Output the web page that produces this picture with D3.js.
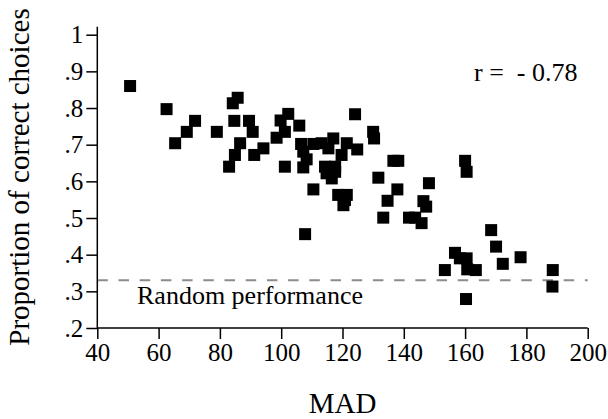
<!DOCTYPE html>
<html>
<head>
<meta charset="utf-8">
<script src="https://cdn.jsdelivr.net/npm/d3@7"></script>
<style>
    html, body { margin: 0; padding: 0; background: #fff; }
</style>
</head>
<body>
<div id="mad-chart-container"></div>
<script>
// mad-scatter.js
// Scatter plot: proportion of correct choices vs MAD, with chance line

// DATA ___________________________________________________________
const MAD_VALUES = [
    50.7, 62.6, 65.4, 69.2, 71.9, 79.0, 83.0, 84.2, 84.7, 84.9,
    85.8, 86.6, 89.5, 90.7, 91.2, 94.2, 98.5, 99.8, 101.2, 101.2,
    102.3, 105.9, 106.5, 107.2, 107.2, 108.3, 107.8, 110.5, 110.5, 113.2,
    114.3, 114.8, 115.4, 116.5, 117.0, 117.6, 117.6, 118.6, 119.7, 120.8,
    120.3, 121.4, 121.4, 124.1, 124.8, 130.0, 130.3, 131.7, 133.3, 134.7,
    136.6, 138.2, 137.9, 141.7, 143.7, 145.8, 146.4, 147.3, 148.2, 153.4,
    156.7, 158.3, 160.5, 160.0, 160.5, 160.7, 160.3, 163.5, 168.5, 170.1,
    172.3, 178.1, 188.6, 188.5
];
const PROPORTION_CORRECT = [
    0.860, 0.797, 0.704, 0.735, 0.765, 0.735, 0.640, 0.813, 0.765, 0.672,
    0.828, 0.704, 0.765, 0.735, 0.672, 0.690, 0.719, 0.766, 0.735, 0.640,
    0.784, 0.752, 0.702, 0.681, 0.638, 0.660, 0.456, 0.702, 0.578, 0.704,
    0.640, 0.622, 0.690, 0.608, 0.717, 0.640, 0.626, 0.563, 0.672, 0.549,
    0.535, 0.704, 0.563, 0.783, 0.687, 0.735, 0.717, 0.610, 0.501, 0.547,
    0.656, 0.656, 0.578, 0.501, 0.501, 0.486, 0.546, 0.531, 0.595, 0.358,
    0.405, 0.390, 0.390, 0.656, 0.626, 0.360, 0.279, 0.358, 0.467, 0.422,
    0.375, 0.393, 0.358, 0.313
];
const X_TICKS = [40, 60, 80, 100, 120, 140, 160, 180, 200];
const Y_TICKS = [0.2, 0.3, 0.4, 0.5, 0.6, 0.7, 0.8, 0.9, 1];
const Y_TICK_LABELS = ['.2', '.3', '.4', '.5', '.6', '.7', '.8', '.9', '1'];
const CHANCE_LEVEL = [0.33];
const R_LABEL = 'r =  - 0.78';
const CHANCE_LABEL = 'Random performance';
const X_TITLE = 'MAD';
const Y_TITLE = 'Proportion of correct choices';
//________________________________________________________________________________________


// CHART SETTINGS ___________________________________________________________
const SVG_W = 608;
const SVG_H = 419;
const PLOT = {left: 97.3, right: 587.7, top: 34.7, bottom: 328};
const MARKER = 12;
const TICK_LEN = 11;
const FONT = '"Liberation Serif", "DejaVu Serif", Times, serif';
//________________________________________________________________________________________


function drawChart() {
    const svg = d3.select('#mad-chart-container')
        .append('svg')
        .attr('width', SVG_W)
        .attr('height', SVG_H)
        .style('display', 'block')
        .attr('font-family', FONT);

    const xScale = d3.scaleLinear().domain([40, 200]).range([PLOT.left, PLOT.right]);
    const yScale = d3.scaleLinear().domain([0.2, 1]).range([PLOT.bottom, PLOT.top]);

    const points = MAD_VALUES.map(function(m, i) { return {mad: m, p: PROPORTION_CORRECT[i]}; });

    // Chance line (dashed grey)
    svg.selectAll('.chance')
        .data(CHANCE_LEVEL)
        .enter()
        .append('line')
        .attr('class', 'chance')
        .attr('x1', xScale(40))
        .attr('x2', xScale(200))
        .attr('y1', function(d) { return yScale(d); })
        .attr('y2', function(d) { return yScale(d); })
        .attr('stroke', '#8c8c8c')
        .attr('stroke-width', 2)
        .attr('stroke-dasharray', '10.5,10.7');

    // Square markers
    svg.selectAll('.pt')
        .data(points)
        .enter()
        .append('rect')
        .attr('class', 'pt')
        .attr('x', function(d) { return xScale(d.mad) - MARKER / 2; })
        .attr('y', function(d) { return yScale(d.p) - MARKER / 2; })
        .attr('width', MARKER)
        .attr('height', MARKER)
        .attr('fill', '#000');

    // X axis
    const xAxis = svg.append('g')
        .attr('transform', `translate(0,${PLOT.bottom})`)
        .call(d3.axisBottom(xScale).tickValues(X_TICKS).tickSize(TICK_LEN).tickPadding(4));

    // Y axis (line runs a bit above the top tick)
    const yAxis = svg.append('g')
        .attr('transform', `translate(${PLOT.left},0)`)
        .call(d3.axisLeft(yScale).tickValues(Y_TICKS).tickSize(TICK_LEN).tickPadding(3)
            .tickFormat(function(d, i) { return Y_TICK_LABELS[i]; }));

    xAxis.select('.domain').attr('d', `M${PLOT.left},0H${PLOT.right}`);
    yAxis.select('.domain').attr('d', `M0,${PLOT.top - 8}V${PLOT.bottom}`);

    svg.selectAll('g').attr('font-family', FONT).attr('font-size', 25);
    svg.selectAll('.domain, .tick line')
        .attr('stroke', '#000')
        .attr('stroke-width', 1.5);
    svg.selectAll('.tick text').attr('fill', '#000');

    // Annotations
    svg.append('text')
        .attr('x', 474)
        .attr('y', 81)
        .attr('xml:space', 'preserve')
        .style('white-space', 'pre')
        .attr('font-size', 26)
        .text(R_LABEL);

    svg.append('text')
        .attr('x', 137)
        .attr('y', 304)
        .attr('font-size', 26)
        .text(CHANCE_LABEL);

    // Axis titles
    svg.append('text')
        .attr('x', (PLOT.left + PLOT.right) / 2)
        .attr('y', 413)
        .attr('text-anchor', 'middle')
        .attr('font-size', 29)
        .text(X_TITLE);

    svg.append('text')
        .attr('transform', 'translate(29,177) rotate(-90)')
        .attr('text-anchor', 'middle')
        .attr('font-size', 29)
        .text(Y_TITLE);
}

drawChart();
</script>
</body>
</html>
